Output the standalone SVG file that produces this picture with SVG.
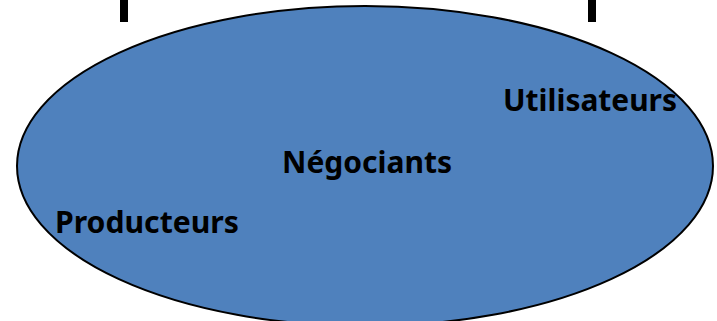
<svg xmlns="http://www.w3.org/2000/svg" width="717" height="321" viewBox="0 0 717 321">
<style>
.lbl{font-family:"Noto Sans","Open Sans","Liberation Sans",sans-serif;font-weight:bold;font-size:31px;fill:#000}
.bar{fill:#000}
</style>
<rect width="717" height="321" fill="#fff"/>
<g id="connectors">
<rect class="bar" x="120" y="0" width="8" height="22"/>
<rect class="bar" x="588" y="0" width="8" height="22"/>
</g>
<g id="ellipse">
<ellipse cx="365" cy="166" rx="348" ry="160" fill="#4F81BD" stroke="#000" stroke-width="2"/>
</g>
<g id="utilisateurs">
<text class="lbl" x="503" y="111" textLength="174" lengthAdjust="spacingAndGlyphs">Utilisateurs</text>
</g>
<g id="negociants">
<text class="lbl" x="282" y="173" textLength="170" lengthAdjust="spacingAndGlyphs">Négociants</text>
</g>
<g id="producteurs">
<text class="lbl" x="55" y="233" textLength="184" lengthAdjust="spacingAndGlyphs">Producteurs</text>
</g>
</svg>
